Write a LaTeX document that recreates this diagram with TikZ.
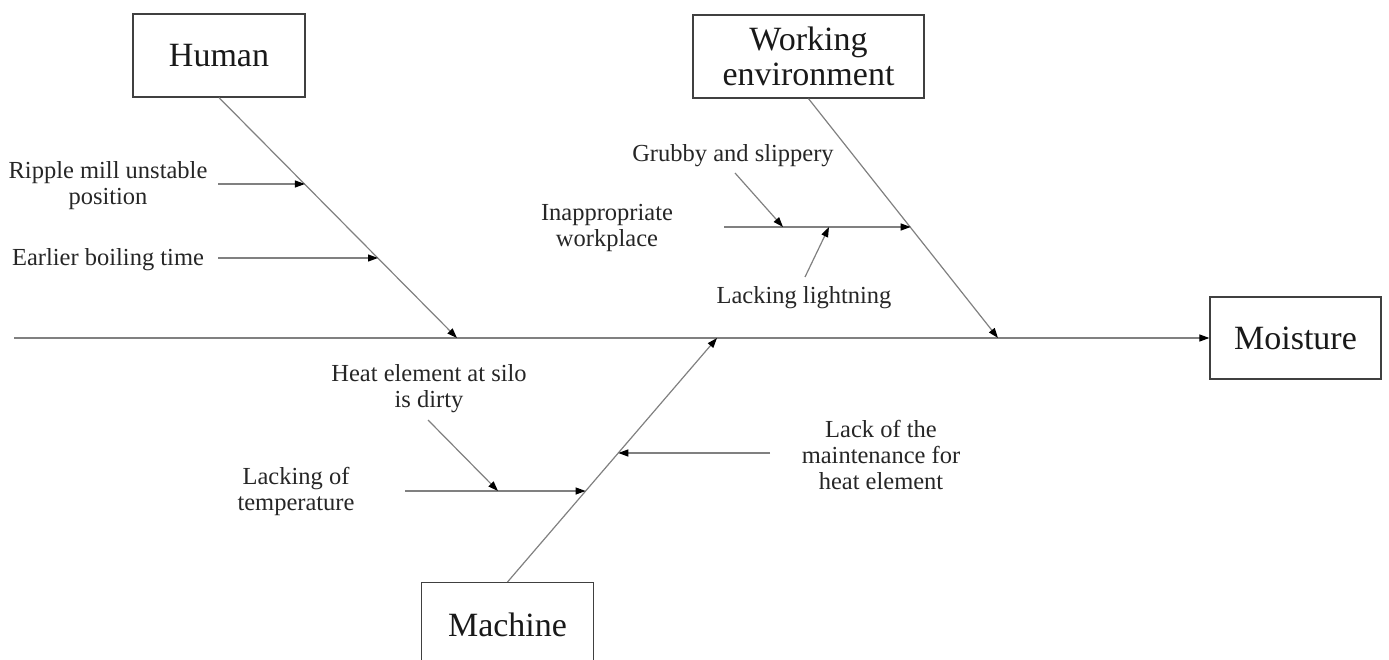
\documentclass[tikz,border=0pt]{standalone}
\usepackage{fontspec}
\setmainfont{Liberation Serif}
\usetikzlibrary{arrows.meta}
\begin{document}
\begin{tikzpicture}[x=1pt,y=-1pt,
  box/.style={draw=black!75, line width=1.3pt, align=center, inner sep=0pt,
    font=\fontsize{34}{35}\selectfont, text=black!90},
  lbl/.style={align=center, inner sep=0pt, font=\fontsize{24.5}{26}\selectfont, text=black!85},
  bone/.style={draw=black!50, line width=1.2pt, -{Triangle[length=10pt,width=7pt,color=black]}}]
\clip (0,0) rectangle (1389,660);
\useasboundingbox (0,0) rectangle (1389,660);
% category boxes
\node[box, minimum width=172pt, minimum height=83pt] (human) at (219,55.5) {Human};
\node[box, minimum width=231pt, minimum height=83pt] (we) at (808.5,56.5) {Working\\environment};
\node[box, minimum width=171pt, minimum height=82pt] (moist) at (1295.5,338) {Moisture};
\node[box, minimum width=172pt, text height=54pt, text depth=46pt, anchor=north] (machine) at (507.5,582) {Machine};
% spine and main bones
\coordinate (tail) at (14,338);
\coordinate (hj) at (457,338);
\coordinate (wj) at (998,338);
\coordinate (mj) at (717,338);
\draw[bone] (tail) -- (moist.west);
\draw[bone] (human.south) -- (hj);
\draw[bone] (we.south) -- (wj);
\draw[bone] (machine.north) -- (mj);
% labels
\node[lbl] (ripple) at (108,186) {Ripple mill unstable\\position};
\node[lbl] (earlier) at (108,260) {Earlier boiling time};
\node[lbl] (grubby) at (733,156) {Grubby and slippery};
\node[lbl] (inapp) at (607,228) {Inappropriate\\workplace};
\node[lbl] (lackl) at (804,298) {Lacking lightning};
\node[lbl] (heat) at (429,389) {Heat element at silo\\is dirty};
\node[lbl] (lackt) at (296,491) {Lacking of\\temperature};
\node[lbl] (maint) at (881,455) {Lack of the\\maintenance for\\heat element};
% sub-cause arrows
\coordinate (r0) at (218,184);   \coordinate (r1) at (304.9,184);
\coordinate (e0) at (218,258);   \coordinate (e1) at (378,258);
\coordinate (i0) at (724,227);   \coordinate (i1) at (910.7,227);
\coordinate (g0) at (735,173);   \coordinate (g1) at (783,227);
\coordinate (l0) at (805,277);   \coordinate (l1) at (829,227);
\coordinate (m0) at (770,453);   \coordinate (m1) at (618.3,453);
\coordinate (t0) at (405,491);   \coordinate (t1) at (585.6,491);
\coordinate (d0) at (428,420);   \coordinate (d1) at (498,491);
\draw[bone] (r0) -- (r1);
\draw[bone] (e0) -- (e1);
\draw[bone] (i0) -- (i1);
\draw[bone] (g0) -- (g1);
\draw[bone] (l0) -- (l1);
\draw[bone] (m0) -- (m1);
\draw[bone] (t0) -- (t1);
\draw[bone] (d0) -- (d1);
\end{tikzpicture}
\end{document}
